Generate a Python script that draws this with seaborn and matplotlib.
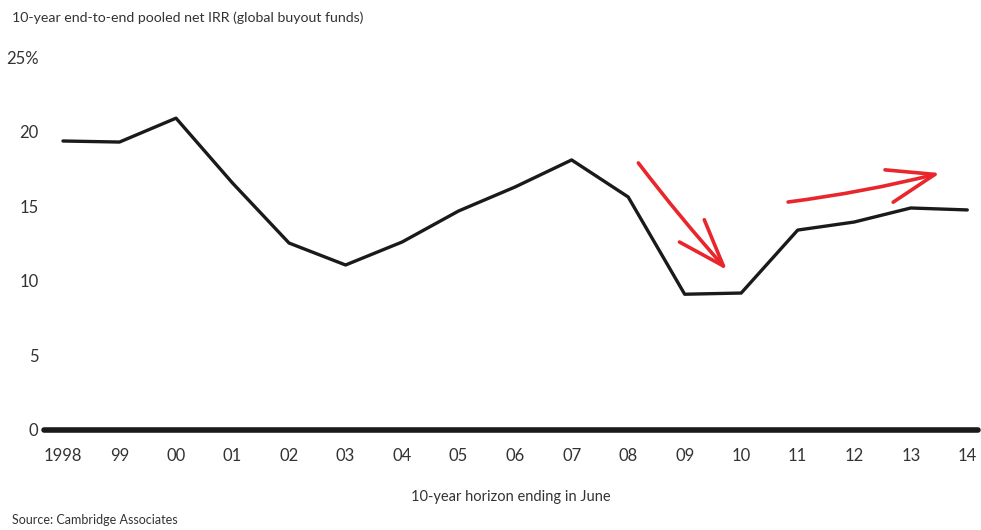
import matplotlib
matplotlib.use("Agg")
import matplotlib.pyplot as plt
import seaborn as sns
import pandas as pd
import numpy as np

years = ["1998", "99", "00", "01", "02", "03", "04", "05", "06", "07",
         "08", "09", "10", "11", "12", "13", "14"]
irr = [19.37, 19.3, 20.9, 16.55, 12.53, 11.06, 12.6, 14.68, 16.29, 18.1,
       15.62, 9.1, 9.18, 13.4, 13.94, 14.88, 14.75]
yticks = [0, 5, 10, 15, 20, 25]
ytick_labels = ["0", "5", "10", "15", "20", "25%"]

# hand-drawn red annotation arrows (start -> tip, in data coordinates)
arrow_down = ((10.18, 17.9), (11.75, 10.72))
arrow_up = ((12.83, 15.28), (15.52, 17.22))

sns.set_theme(style="white")
plt.rcParams['font.family'] = ['Lato', 'DejaVu Sans']
text_color = "#333333"

df = pd.DataFrame({"pos": np.arange(len(years)), "irr": irr})

fig = plt.figure(figsize=(9.81, 5.30), dpi=100)
ax = fig.add_axes([44/981, (530-430)/530, (978-44)/981, (430-57)/530])

sns.lineplot(data=df, x="pos", y="irr", ax=ax, color="#1a1a1a", linewidth=2.4)

ax.axhline(0, color="#1a1a1a", linewidth=4, zorder=5, clip_on=False)

ax.set_xlim(-0.336, 16.19)
ax.set_ylim(0, 25)
ax.set_xticks(df["pos"])
ax.set_xticklabels(years)
ax.set_yticks(yticks)
ax.set_yticklabels(ytick_labels)
ax.tick_params(axis="both", length=0, labelsize=12, colors=text_color)
ax.tick_params(axis="x", pad=13)
ax.tick_params(axis="y", pad=4)
for s in ax.spines.values():
    s.set_visible(False)
ax.set_xlabel("")
ax.set_ylabel("")
ax.grid(False)

red = "#e8262b"
for (start, tip), rad in ((arrow_down, 0.02), (arrow_up, 0.03)):
    ax.annotate("", xy=tip, xytext=start,
                arrowprops=dict(arrowstyle="->,head_length=1.7,head_width=0.6",
                                color=red, lw=2.6, mutation_scale=20,
                                connectionstyle=f"arc3,rad={rad}",
                                shrinkA=0, shrinkB=0))

fig.text(12/981, 1 - 18/530, "10-year end-to-end pooled net IRR (global buyout funds)",
         ha="left", va="center", fontsize=10.2, color=text_color)
fig.text(511/981, 1 - 497/530, "10-year horizon ending in June",
         ha="center", va="center", fontsize=10.5, color=text_color)
fig.text(12/981, 1 - 520/530, "Source: Cambridge Associates",
         ha="left", va="center", fontsize=9, color=text_color)

fig.savefig("out.png", dpi=100)
